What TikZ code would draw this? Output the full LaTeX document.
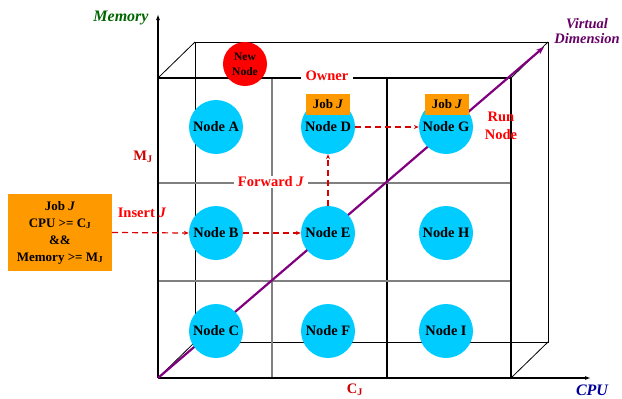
\documentclass[tikz,border=0pt]{standalone}
\usepackage{fontspec}
\setmainfont{Liberation Serif}
\usetikzlibrary{arrows.meta}
\definecolor{nodecyan}{HTML}{00CCFF}
\definecolor{joborange}{HTML}{FF9900}
\definecolor{memgreen}{HTML}{006600}
\definecolor{cpublue}{HTML}{000099}
\definecolor{vdpurple}{HTML}{660066}
\definecolor{arrpurple}{HTML}{800080}
\definecolor{lblred}{HTML}{FF0000}
\definecolor{darkred}{HTML}{CC0000}
\definecolor{dashred}{HTML}{D80000}
\begin{document}
\begin{tikzpicture}[x=1pt,y=-1pt,
  cnode/.style={circle, fill=nodecyan, minimum size=54pt, inner sep=0pt, font=\bfseries\fontsize{14.4}{14.4}\selectfont},
  newnode/.style={circle, fill=red, minimum size=44pt, inner sep=0pt, align=center, font=\bfseries\fontsize{11.5}{15}\selectfont},
  jobbox/.style={fill=joborange, minimum width=44pt, minimum height=21pt, inner sep=0pt, font=\bfseries\fontsize{13}{13}\selectfont},
  bigjob/.style={fill=joborange, minimum width=104pt, minimum height=77pt, inner sep=0pt, align=center, font=\bfseries\fontsize{13}{17}\selectfont},
  redlbl/.style={text=lblred, inner sep=1pt, font=\bfseries\fontsize{14.5}{18}\selectfont},
  dredlbl/.style={text=darkred, inner sep=1pt, font=\bfseries\fontsize{14.5}{18}\selectfont},
  dasharrow/.style={draw=dashred, dash pattern=on 6pt off 4pt, line width=1.2pt, -{Stealth[length=5pt,width=4pt]}},
  boxline/.style={draw=black, line width=0.8pt},
  frontline/.style={draw=black, line width=1.1pt},
  gridline/.style={draw=gray, line width=1.4pt},
  axisline/.style={draw=black, line width=2pt, -{Latex[length=6pt,width=4pt]}}
]
\useasboundingbox (0,0) rectangle (622,399);
% corners
\coordinate (O) at (158,378);
\coordinate (FTL) at (158,78);
\coordinate (FTR) at (511,78);
\coordinate (FBR) at (511,378);
\coordinate (BTL) at (195,42);
\coordinate (BTR) at (548,42);
\coordinate (BBR) at (548,342);
\coordinate (BBL) at (195,342);
\coordinate (MEMTIP) at (158,14);
\coordinate (CPUTIP) at (591,378);
\coordinate (VDTIP) at (544,47);
\coordinate (G1T) at (272,78);
\coordinate (G1B) at (272,378);
\coordinate (G2T) at (387,78);
\coordinate (G2B) at (387,378);
\coordinate (H1L) at (158,183);
\coordinate (H1R) at (511,183);
\coordinate (H2L) at (158,281);
\coordinate (H2R) at (511,281);
% back box
\draw[boxline] (BTL) -- (BTR) -- (BBR) -- (BBL) -- cycle;
\draw[boxline] (FTL) -- (BTL);
\draw[boxline] (FBR) -- (BBR);
\draw[boxline] (O) -- (BBL);
\draw[boxline] (FTR) -- (BTR);
% grid
\draw[gridline] (G1T) -- (G1B);
\draw[frontline] (G2T) -- (G2B);
\draw[gridline] (H1L) -- (H1R);
\draw[gridline] (H2L) -- (H2R);
% front box
\draw[frontline] (FTL) -- (FTR) -- (FBR);
% axes
\draw[axisline] (O) -- (MEMTIP);
\draw[axisline] (O) -- (CPUTIP);
% virtual dimension
\draw[draw=arrpurple, line width=2.2pt, -{Stealth[length=8pt,width=6pt]}] (O) -- (VDTIP);
% nodes
\node[cnode] (A) at (216,127) {Node A};
\node[cnode] (D) at (328,127) {Node D};
\node[cnode] (G) at (446,127) {Node G};
\node[cnode] (B) at (216,233) {Node B};
\node[cnode] (E) at (328,233) {Node E};
\node[cnode] (H) at (446,233) {Node H};
\node[cnode] (C) at (216,331) {Node C};
\node[cnode] (F) at (328,331) {Node F};
\node[cnode] (I) at (446,331) {Node I};
\node[newnode] (NN) at (245,64) {New\\Node};
\node[jobbox] (JD) at (328,104.5) {Job \textit{J}};
\node[jobbox] (JG) at (447,104.5) {Job \textit{J}};
\node[bigjob] (JOB) at (60,232.5) {Job \textit{J}\\CPU >= C\textsubscript{J}\\\&\&\\Memory >= M\textsubscript{J}};
% dashed arrows
\draw[dasharrow] (JOB.east) -- (B.west);
\draw[dasharrow] (B.east) -- (E.west);
\draw[dasharrow] (E.north) -- (D.south);
\draw[dasharrow] (D.east) -- (G.west);
% labels
\node[text=memgreen, font=\bfseries\itshape\fontsize{16}{16}\selectfont] (MEM) at (121,18) {Memory};
\node[text=cpublue, font=\bfseries\itshape\fontsize{16}{16}\selectfont] (CPU) at (592,390) {CPU};
\node[text=vdpurple, align=center, font=\bfseries\itshape\fontsize{14.5}{15}\selectfont] (VD) at (587,31) {Virtual\\Dimension};
\node[redlbl, fill=white, inner xsep=5pt] (OWN) at (327,76) {Owner};
\node[redlbl, fill=white, inner xsep=4pt] (FWD) at (271,182) {Forward \textit{J}};
\node[redlbl] (INS) at (142,213) {Insert \textit{J}};
\node[redlbl, align=center] (RUN) at (501,126) {Run\\Node};
\node[dredlbl] (MJ) at (143,157) {M\textsubscript{J}};
\node[dredlbl] (CJ) at (355,390) {C\textsubscript{J}};
\end{tikzpicture}
\end{document}
